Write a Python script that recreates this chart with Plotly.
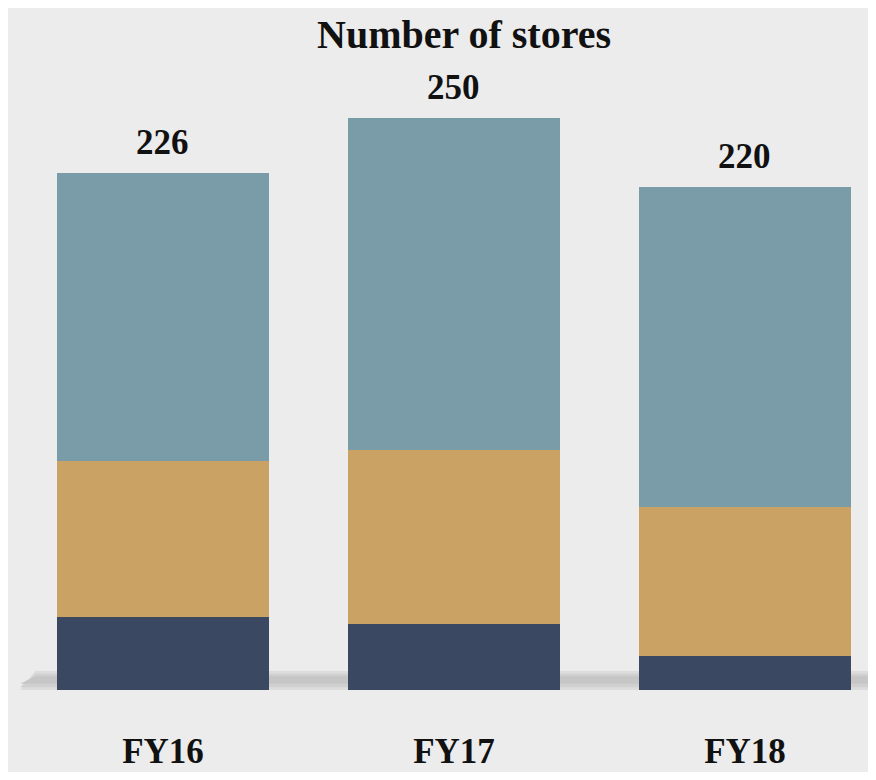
import plotly.graph_objects as go

categories = ["FY16", "FY17", "FY18"]
seg_bottom = [32, 29, 15]
seg_middle = [68, 76, 65]
seg_top = [126, 145, 140]
totals = [226, 250, 220]
title_text = "Number of stores"

col_bottom = "#3a4862"
col_middle = "#c9a264"
col_top = "#7a9ba8"
bg = "#ececec"
font_family = "Liberation Serif, DejaVu Serif, serif"

fig = go.Figure()
for vals, col in [(seg_bottom, col_bottom), (seg_middle, col_middle), (seg_top, col_top)]:
    fig.add_trace(go.Bar(
        x=categories, y=vals, marker=dict(color=col, line=dict(width=0)),
        width=0.73, hoverinfo="skip", showlegend=False,
    ))

for c, t in zip(categories, totals):
    fig.add_annotation(
        x=c, y=t, text=f"<b>{t}</b>", showarrow=False, yanchor="middle",
        yshift=31, font=dict(family=font_family, size=35, color="#111111"),
    )

fig.add_annotation(
    xref="paper", yref="paper", x=0.5297, y=1, yanchor="top", yshift=-2,
    text=f"<b>{title_text}</b>", showarrow=False,
    font=dict(family=font_family, size=40, color="#111111"),
)

# floor shadow
shadow_layers = [
    (0.0, 0.028, "#dcdcdc"),
    (0.004, 0.024, "#d0d0d0"),
    (0.009, 0.020, "#c6c6c6"),
]
for y0, y1, col in shadow_layers:
    fig.add_shape(
        type="path", xref="paper", yref="paper",
        path=f"M 0.014 {y0} L 0.032 {y1} L 1 {y1} L 1 {y0} Z",
        fillcolor=col, line=dict(width=0), layer="below",
    )

fig.update_layout(
    width=860, height=764,
    margin=dict(l=0, r=0, t=0, b=82, autoexpand=False),
    paper_bgcolor=bg, plot_bgcolor=bg,
    barmode="stack", bargap=0,
    xaxis=dict(
        range=[-0.5326, 2.4227], showgrid=False, zeroline=False, showline=False,
        ticks="", ticklabelstandoff=37, automargin=False,
        tickfont=dict(family=font_family, size=35, color="#111111"),
        tickvals=categories, ticktext=[f"<b>{c}</b>" for c in categories],
    ),
    yaxis=dict(range=[0, 298.3], visible=False),
)

fig.write_html("out.html")
